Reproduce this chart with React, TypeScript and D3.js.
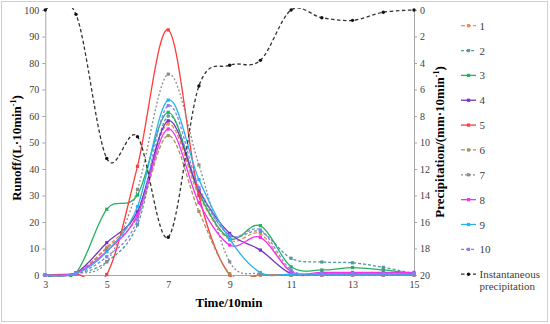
import { axisBottom, axisLeft, axisRight, curveCardinal, line, scaleLinear, select } from "d3";
import { useEffect, useRef } from "react";

const times = [3, 4, 5, 6, 7, 8, 9, 10, 11, 12, 13, 14, 15];
const xTicks = [3, 5, 7, 9, 11, 13, 15];
const leftTicks = [0, 10, 20, 30, 40, 50, 60, 70, 80, 90, 100];
const rightTicks = [0, 2, 4, 6, 8, 10, 12, 14, 16, 18, 20];

const runoff1 = [0, 0.8, 10.5, 24, 57, 30, 13.2, 15.5, 1, 0.5, 0.5, 0.3, 0.3];
const runoff2 = [0, 0.5, 5, 19, 60, 32, 15, 16.4, 6.3, 4.9, 4.6, 2.9, 0.5];
const runoff3 = [0, 0.8, 24.8, 30.2, 61.4, 31, 13.8, 18.6, 3.1, 1.9, 2.8, 1.9, 0.5];
const runoff4 = [0, 0.8, 12.2, 23.9, 58.2, 32, 15.7, 9.4, 0.5, 0.3, 0.3, 0.3, 0.3];
const runoff5 = [0, 0.3, 0.2, 41, 92.5, 30, 0, 0, 0, 0, 0, 0, 0];
const runoff6 = [0, 0.8, 10, 22, 52.6, 24, 0.5, 0, 0, 0, 0, 0, 0];
const runoff7 = [0, 0.5, 5, 32.3, 75.8, 41.5, 5, 0.5, 0, 0, 0, 0, 0];
const runoff8 = [0, 0.8, 9, 22.6, 55.1, 27.3, 11.3, 14.2, 1.3, 1, 1, 1, 1];
const runoff9 = [0, 0.5, 8.8, 25.8, 66, 36, 13.5, 0.9, 0.3, 0.3, 0.3, 0.3, 0.3];
const runoff10 = [0, 0.5, 6.9, 20.8, 63.9, 33, 15, 17, 1.9, 0.5, 0.5, 0.5, 0.5];
const precipitation = [0, 0.33, 11.2, 9.56, 17.15, 5.74, 4.17, 3.8, 0, 0.58, 0.78, 0.17, 0];

const series = [
  { name: "1", values: runoff1, color: "#f4874b", dash: "4,2" },
  { name: "2", values: runoff2, color: "#4f9aa3", dash: "3,2" },
  { name: "3", values: runoff3, color: "#22b15c", dash: "" },
  { name: "4", values: runoff4, color: "#7434c4", dash: "" },
  { name: "5", values: runoff5, color: "#ff3b3b", dash: "" },
  { name: "6", values: runoff6, color: "#a6915a", dash: "4,2" },
  { name: "7", values: runoff7, color: "#8c8c8c", dash: "2,2" },
  { name: "8", values: runoff8, color: "#f531f0", dash: "" },
  { name: "9", values: runoff9, color: "#23b5ee", dash: "" },
  { name: "10", values: runoff10, color: "#8a7cf5", dash: "3,2" },
];

const font = "'Liberation Serif', 'Times New Roman', serif";
const box = { left: 45.3, right: 414, top: 10, bottom: 275 };

export default function App() {
  const leftRef = useRef<SVGGElement>(null);
  const rightRef = useRef<SVGGElement>(null);
  const bottomRef = useRef<SVGGElement>(null);

  const x = scaleLinear().domain([3, 15]).range([box.left, box.right]);
  const yL = scaleLinear().domain([0, 100]).range([box.bottom, box.top]);
  const yR = scaleLinear().domain([0, 20]).range([box.top, box.bottom]);

  const curve = curveCardinal.tension(0);
  const runoffLine = line<number>()
    .x((_, i) => x(times[i]))
    .y((d) => yL(d))
    .curve(curve);
  const precipLine = line<number>()
    .x((_, i) => x(times[i]))
    .y((d) => yR(d))
    .curve(curve);

  useEffect(() => {
    const style = (g: any) => {
      g.attr("font-family", font);
      g.select(".domain").attr("stroke", "#a6a6a6");
      g.selectAll(".tick line").attr("stroke", "#a6a6a6");
      g.selectAll(".tick text")
        .attr("fill", "#404040")
        .style("font-family", font)
        .style("font-size", "10px");
    };
    if (leftRef.current) {
      select(leftRef.current)
        .call(axisLeft(yL).tickValues(leftTicks).tickSize(3).tickPadding(3).tickSizeOuter(0))
        .call(style);
    }
    if (rightRef.current) {
      select(rightRef.current)
        .call(axisRight(yR).tickValues(rightTicks).tickSize(3).tickPadding(3).tickSizeOuter(0))
        .call(style);
    }
    if (bottomRef.current) {
      select(bottomRef.current)
        .call(axisBottom(x).tickValues(xTicks).tickSize(0).tickPadding(6).tickSizeOuter(0))
        .call(style);
    }
  }, []);

  const legendY = (i: number) => 25.7 + i * 24.85;

  return (
    <svg
      width={550}
      height={324}
      fontFamily={font}
      style={{ position: "absolute", left: 0, top: 0, background: "#fff" }}
    >
      <defs>
        <clipPath id="plot">
          <rect x={box.left} y={box.top - 2} width={box.right - box.left} height={box.bottom - box.top + 4} />
        </clipPath>
      </defs>
      <rect x={1.5} y={1.5} width={546} height={320} fill="none" stroke="#d0d0d0" />
      <g ref={bottomRef} transform={`translate(0, ${box.bottom})`} />
      <g ref={leftRef} transform={`translate(${box.left}, 0)`} />
      <g ref={rightRef} transform={`translate(${box.right}, 0)`} />

      {series.map((s) => (
        <g key={`s-${s.name}`}>
          <path
            d={runoffLine(s.values) ?? ""}
            fill="none"
            stroke={s.color}
            strokeWidth={1.3}
            strokeDasharray={s.dash}
            clipPath="url(#plot)"
          />
          {s.values.map((v, i) => (
            <rect
              key={i}
              x={x(times[i]) - 1.6}
              y={yL(v) - 1.6}
              width={3.2}
              height={3.2}
              fill={s.color}
            />
          ))}
        </g>
      ))}

      <path
        d={precipLine(precipitation) ?? ""}
        fill="none"
        stroke="#333"
        strokeWidth={1.3}
        strokeDasharray="3.5,2.5"
        clipPath="url(#plot)"
      />
      {precipitation.map((v, i) => (
        <circle key={`p-${i}`} cx={x(times[i])} cy={yR(v)} r={1.7} fill="#111" />
      ))}

      <text
        transform="translate(21, 148) rotate(-90)"
        textAnchor="middle"
        style={{ fontFamily: font, fontSize: 13, fontWeight: "bold" }}
      >
        Runoff/(L·10min<tspan dy={-5} fontSize={8}>-1</tspan><tspan dy={5}>)</tspan>
      </text>
      <text
        transform="translate(444, 142) rotate(-90)"
        textAnchor="middle"
        style={{ fontFamily: font, fontSize: 13, fontWeight: "bold" }}
      >
        Precipitation/(mm·10min<tspan dy={-5} fontSize={8}>-1</tspan><tspan dy={5}>)</tspan>
      </text>
      <text
        x={229}
        y={307}
        textAnchor="middle"
        style={{ fontFamily: font, fontSize: 13, fontWeight: "bold" }}
      >
        Time/10min
      </text>

      {series.map((s, i) => (
        <g key={`lg-${s.name}`} transform={`translate(0, ${legendY(i)})`}>
          <line x1={461} x2={476} y1={0} y2={0} stroke={s.color} strokeWidth={1.3} strokeDasharray={s.dash || "none"} />
          <rect x={466.9} y={-1.6} width={3.2} height={3.2} fill={s.color} />
          <text x={479.5} y={4} style={{ fontFamily: font, fontSize: 11 }} fill="#404040">
            {s.name}
          </text>
        </g>
      ))}
      <g transform={`translate(0, ${legendY(10)})`}>
        <line x1={461} x2={476} y1={0} y2={0} stroke="#333" strokeWidth={1.3} strokeDasharray="3.5,2.5" />
        <circle cx={468.5} cy={0} r={1.7} fill="#111" />
        <text x={479.5} y={4} style={{ fontFamily: font, fontSize: 11 }} fill="#404040">
          Instantaneous
        </text>
        <text x={479.5} y={16} style={{ fontFamily: font, fontSize: 11 }} fill="#404040">
          precipitation
        </text>
      </g>
    </svg>
  );
}
